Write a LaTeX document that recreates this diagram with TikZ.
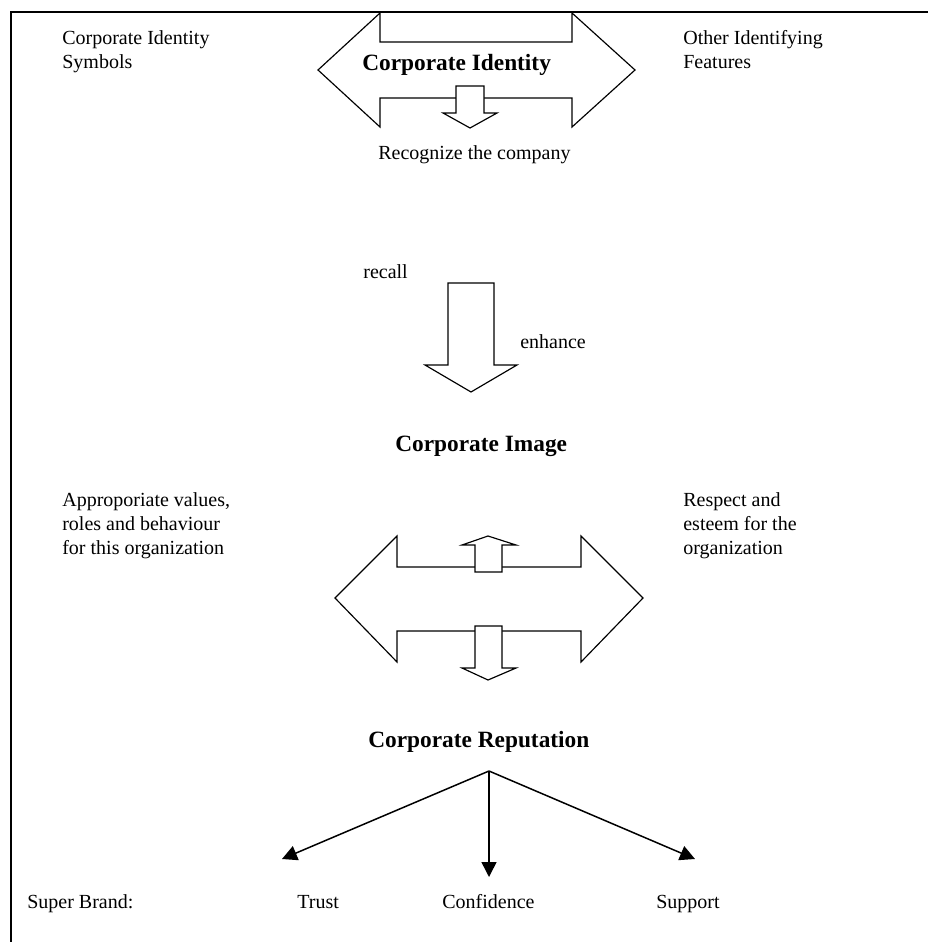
\documentclass[tikz,border=0pt]{standalone}
\usepackage{fontspec}
\setmainfont{Liberation Serif}
\usetikzlibrary{arrows.meta}
\begin{document}
\begin{tikzpicture}[x=0.6pt,y=-0.6pt,line join=miter,
  txt/.style={inner sep=0pt,anchor=base west,align=left,font=\fontsize{12}{14.4}\selectfont},
  headtxt/.style={inner sep=0pt,anchor=base west,font=\fontsize{14}{16.8}\selectfont\bfseries},
  blockarrow/.style={draw=black,fill=white,line width=0.7pt},
  link/.style={draw=black,line width=0.9pt,-{Triangle[length=9pt,width=9pt]}}]
\useasboundingbox (0,0) rectangle (928,942);
% frame
\draw[line width=0.9pt] (11,942) -- (11,12) -- (928,12);
% top double arrow
\path[blockarrow] (318,70) -- (380,13) -- (380,42) -- (572,42) -- (572,13) -- (635,70)
  -- (572,127) -- (572,98) -- (380,98) -- (380,127) -- cycle;
\path[blockarrow] (456,86) -- (484,86) -- (484,113) -- (497,113) -- (470,128) -- (443,113) -- (456,113) -- cycle;
\node[headtxt] (ci) at (362,71) {Corporate Identity};
\node[txt] (cis) at (62,69) {Corporate Identity\\Symbols};
\node[txt] (oif) at (683,69) {Other Identifying\\Features};
\node[txt] (rec) at (378,160) {Recognize the company};
% middle down arrow
\node[txt] (recall) at (363,279) {recall};
\node[txt] (enh) at (520,349) {enhance};
\path[blockarrow] (448,283) -- (494,283) -- (494,365) -- (517,365) -- (471,392) -- (425,365) -- (448,365) -- cycle;
\node[headtxt] (cim) at (395,451) {Corporate Image};
% lower double arrow
\node[txt] (apv) at (62,554) {Approporiate values,\\roles and behaviour\\for this organization};
\node[txt] (res) at (683,554) {Respect and\\esteem for the\\organization};
\path[blockarrow] (335,598) -- (397,536) -- (397,567) -- (581,567) -- (581,536) -- (643,598)
  -- (581,662) -- (581,631) -- (397,631) -- (397,662) -- cycle;
\path[blockarrow] (475,572) -- (502,572) -- (502,545) -- (516,545) -- (488,536) -- (462,545) -- (475,545) -- cycle;
\path[blockarrow] (475,626) -- (502,626) -- (502,668) -- (516,668) -- (488,680) -- (462,668) -- (475,668) -- cycle;
\node[headtxt] (crep) at (368,747) {Corporate Reputation};
% bottom
\coordinate (hub) at (489,771);
\coordinate (tl) at (282,859);
\coordinate (tc) at (489,877);
\coordinate (tr) at (695,859);
\draw[link] (hub) -- (tl);
\draw[link] (hub) -- (tc);
\draw[link] (hub) -- (tr);
\node[txt] (sb) at (27,908) {Super Brand:};
\node[txt] (trust) at (297,908) {Trust};
\node[txt] (conf) at (442,908) {Confidence};
\node[txt] (supp) at (656,908) {Support};
\end{tikzpicture}
\end{document}
